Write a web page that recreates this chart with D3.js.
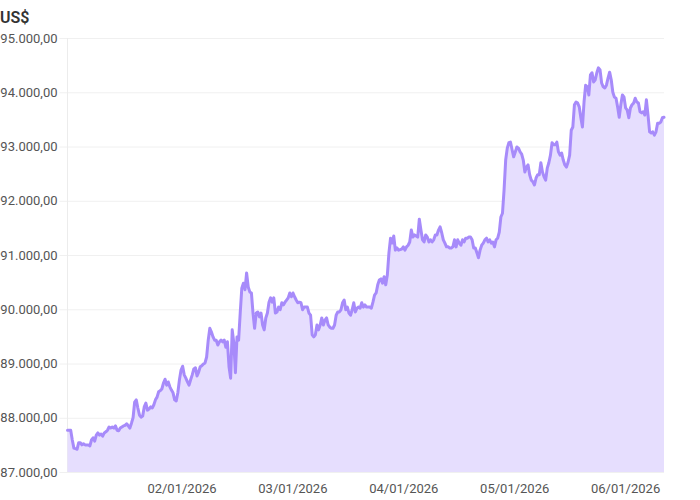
<!DOCTYPE html>
<html>
<head>
<meta charset="utf-8">
<script src="https://cdn.jsdelivr.net/npm/d3@7"></script>
<style>
  body { margin: 0; background: #fff; }
  text { font-family: Roboto, "Noto Sans", sans-serif; }
</style>
</head>
<body>
<svg id="chart" width="700" height="500"></svg>
<script>
// ---- data ----
const unitLabel = "US$";
const yTicks = [87000, 88000, 89000, 90000, 91000, 92000, 93000, 94000, 95000];
const xTickLabels = ["02/01/2026", "03/01/2026", "04/01/2026", "05/01/2026", "06/01/2026"];
const startTime = "2025-12-31T23:20:00Z";
const endTime = "2026-01-06T08:25:00Z";
const prices = [
  87770, 87770, 87770, 87590, 87440, 87430, 87420, 87540, 87540, 87500, 87520, 87500, 87500, 87500, 87480,
  87590, 87630, 87570, 87680, 87720, 87680, 87700, 87660, 87720, 87740, 87770, 87830, 87810, 87830, 87810,
  87850, 87770, 87760, 87810, 87830, 87850, 87860, 87890, 87850, 87810, 87900, 88000, 88290, 88330, 88180,
  88050, 88010, 88030, 88200, 88270, 88140, 88160, 88200, 88180, 88240, 88330, 88380, 88480, 88500, 88530,
  88640, 88710, 88600, 88660, 88570, 88510, 88460, 88330, 88310, 88460, 88700, 88880, 88950,
  88790, 88730, 88660, 88600, 88700, 88790, 88900, 88920, 88770, 88840, 88940, 88960, 88990, 89010, 89120,
  89430, 89650, 89580, 89490, 89430, 89430, 89340, 89400, 89430, 89400, 89430, 89300, 89400, 88940, 88730,
  89620, 89380, 88830, 89490, 89430, 89930, 90390, 90480, 90360, 90670, 90410, 90320, 90300, 89930, 89650,
  89930, 89950, 89860, 89930, 89710, 89620, 89840, 89930, 90130, 90210, 90130, 90210, 89930, 89950, 90040,
  89990, 90120, 90080, 90130, 90170, 90210, 90300, 90230, 90300, 90230, 90170, 90120,
  90130, 90120, 89990, 90040, 90040, 90040, 89930, 89890, 89530, 89490, 89530, 89710, 89620, 89710, 89840,
  89710, 89800, 89840, 89710, 89670, 89650, 89650, 89710, 89890, 89950, 89950, 89990, 90120, 90170, 89990,
  90040, 89930, 89890, 89990, 90120, 89950, 90020, 90040, 90020, 90120, 90040, 90080, 90040, 90040, 90040,
  90020, 90130, 90260, 90300, 90450, 90540, 90560, 90480, 90600, 90450, 90630, 91040, 91310, 91220, 91350,
  91090, 91130, 91090, 91100, 91110, 91150, 91090,
  91150, 91180, 91240, 91460, 91330, 91370, 91350, 91330, 91660, 91460, 91280, 91240, 91370, 91330, 91240,
  91280, 91240, 91280, 91370, 91370, 91460, 91520, 91410, 91280, 91220, 91150, 91150, 91130, 91130, 91150,
  91280, 91150, 91280, 91220, 91180, 91280, 91240, 91310, 91310, 91330, 91330, 91280, 91130, 91130, 91040,
  90950, 91090, 91180, 91220, 91280, 91310, 91240, 91280, 91220, 91240, 91150, 91280, 91310, 91420, 91700,
  91770, 92200, 92750, 92970, 93070, 93080, 92940, 92810, 92900, 92990, 92970, 92900, 92860,
  92750, 92530, 92620, 92660, 92480, 92380, 92350, 92290, 92420, 92480, 92480, 92700, 92530, 92440, 92380,
  92600, 92700, 92840, 93070, 93030, 93030, 93080, 92900, 92840, 92880, 92750, 92660, 92620, 92710, 92840,
  93300, 93360, 93770, 93820, 93800, 93730, 93530, 93360, 93820, 94130, 94100, 93950, 94320, 94360, 94190,
  94230, 94360, 94450, 94410, 94170, 94100, 94080, 94130, 94260, 94370, 94230, 94000, 93910, 93890, 93730,
  93540, 93770, 93950, 93910, 93710, 93670, 93530, 93710, 93770, 93800, 93890, 93820, 93800, 93640, 93620,
  93640, 93580, 93860, 93580, 93270, 93250, 93270, 93210, 93270, 93430, 93430, 93450, 93530, 93540
];

// ---- build ----
(function () {
const t0 = new Date(startTime).getTime();
const t1 = new Date(endTime).getTime();
const data = prices.map((v, i) => ({
  t: new Date(t0 + (t1 - t0) * i / (prices.length - 1)),
  v: v
}));
const parseLabel = d3.utcParse("%d/%m/%Y");
const xTickDates = xTickLabels.map(parseLabel);

const mLeft = 67.5, mRight = 664, mTop = 38, mBottom = 472;
const svg = d3.select("#chart");

const x = d3.scaleUtc().domain([new Date(t0), new Date(t1)]).range([mLeft, mRight]);
const y = d3.scaleLinear().domain([d3.min(yTicks), d3.max(yTicks)]).range([mBottom, mTop]);

const locale = d3.formatLocale({ decimal: ",", thousands: ".", grouping: [3], currency: ["", ""] });
const fmt = locale.format(",.2f");

// grid + y axis
const yAxis = d3.axisLeft(y).tickValues(yTicks).tickFormat(fmt)
  .tickSize(-(mRight - mLeft)).tickPadding(10);
const gy = svg.append("g").attr("transform", `translate(${mLeft},0)`).call(yAxis);
gy.select(".domain").remove();
gy.selectAll(".tick line").attr("stroke", "#f0f0f0").attr("x1", -8).attr("x2", mRight - mLeft);
gy.selectAll(".tick text").attr("fill", "#555").attr("font-size", 13)
  .style("font-family", "Roboto, 'Noto Sans', sans-serif");

// vertical axis line
svg.append("line")
  .attr("x1", mLeft).attr("x2", mLeft).attr("y1", mTop).attr("y2", mBottom)
  .attr("stroke", "#ececec");

// area
const area = d3.area().x(d => x(d.t)).y0(y(d3.min(yTicks))).y1(d => y(d.v));
svg.append("path").datum(data).attr("d", area).attr("fill", "#e6defe");

// line
const line = d3.line().x(d => x(d.t)).y(d => y(d.v));
svg.append("path").datum(data).attr("d", line)
  .attr("fill", "none").attr("stroke", "#a78bfa").attr("stroke-width", 3)
  .attr("stroke-linejoin", "round").attr("stroke-linecap", "round");

// x axis
const xAxis = d3.axisBottom(x).tickValues(xTickDates)
  .tickFormat((d, i) => xTickLabels[i]).tickSize(0).tickPadding(12);
const gx = svg.append("g").attr("transform", `translate(0,${mBottom})`).call(xAxis);
gx.select(".domain").remove();
gx.selectAll(".tick text").attr("fill", "#555").attr("font-size", 13)
  .style("font-family", "Roboto, 'Noto Sans', sans-serif");

// unit label
svg.append("text").attr("x", 0).attr("y", 23)
  .attr("font-size", 16).attr("font-weight", 600).attr("fill", "#333")
  .text(unitLabel);
})();
</script>
</body>
</html>
